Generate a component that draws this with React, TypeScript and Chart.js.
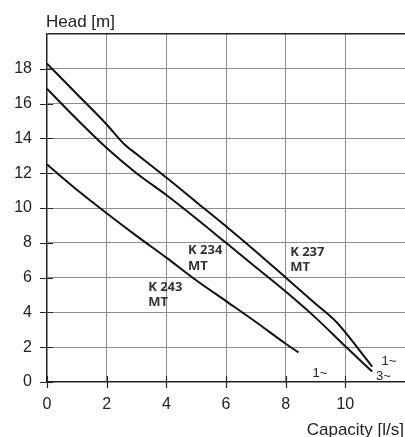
import React, { useEffect, useRef } from 'react';
import { Chart, registerables } from 'chart.js';

Chart.register(...registerables);

// K 237 MT curve
const capacityK237 = [0, 1, 2, 2.6, 3, 4, 5, 6, 7, 8, 9, 9.7, 10, 10.9];
const headK237 = [18.3, 16.55, 14.8, 13.65, 13.1, 11.75, 10.35, 8.95, 7.5, 6.0, 4.5, 3.45, 2.85, 0.88];
// K 234 MT curve
const capacityK234 = [0, 1, 2, 3, 4, 5, 6, 7, 8, 9, 10, 10.9];
const headK234 = [16.85, 15.1, 13.45, 12.0, 10.75, 9.4, 8.0, 6.6, 5.2, 3.7, 2.05, 0.6];
// K 243 MT curve
const capacityK243 = [0, 1, 2, 3, 4, 5, 6, 7, 8, 8.43];
const headK243 = [12.5, 11.05, 9.7, 8.4, 7.15, 5.85, 4.65, 3.45, 2.2, 1.7];

const xTicks = [0, 2, 4, 6, 8, 10];
const yTicks = [0, 2, 4, 6, 8, 10, 12, 14, 16, 18];

const yTitle = 'Head [m]';
const xTitle = 'Capacity [l/s]';

// curve labels: text, anchor capacity, anchor head, bold
const curveLabelText = ['K 243', 'MT', 'K 234', 'MT', 'K 237', 'MT', '1~', '1~', '3~'];
const curveLabelX = [3.39, 3.39, 4.73, 4.73, 8.15, 8.15, 9.15, 11.46, 11.28];
const curveLabelY = [5.46, 4.6, 7.59, 6.67, 7.44, 6.61, 0.52, 1.21, 0.32];
const curveLabelBold = [true, true, true, true, true, true, false, false, false];

const toPoints = (xs: number[], ys: number[]) => xs.map((x, i) => ({ x, y: ys[i] }));

export default function App() {
  const canvasRef = useRef<HTMLCanvasElement | null>(null);

  useEffect(() => {
    document.body.style.margin = '0';
    const canvas = canvasRef.current;
    if (!canvas) return;

    const overlay = {
      id: 'overlay',
      afterDraw(chart: any) {
        const ctx = chart.ctx as CanvasRenderingContext2D;
        const xs = chart.scales.x;
        const ys = chart.scales.y;
        const area = chart.chartArea;
        ctx.save();
        // tick marks straddling axes
        ctx.strokeStyle = '#222';
        ctx.lineWidth = 1.2;
        ctx.beginPath();
        yTicks.forEach((v) => {
          const py = Math.round(ys.getPixelForValue(v)) + 0.5;
          ctx.moveTo(area.left - 7, py);
          ctx.lineTo(area.left + 6, py);
        });
        xTicks.forEach((v) => {
          const px = Math.round(xs.getPixelForValue(v)) + 0.5;
          ctx.moveTo(px, area.bottom - 6);
          ctx.lineTo(px, area.bottom + 6);
        });
        ctx.stroke();

        // titles
        ctx.fillStyle = '#222';
        ctx.font = '17px "Liberation Sans", Arial, sans-serif';
        ctx.textBaseline = 'middle';
        ctx.textAlign = 'left';
        ctx.fillText(yTitle, area.left - 1, 22);
        ctx.textAlign = 'right';
        ctx.fillText(xTitle, chart.width - 1, 430);

        // curve labels
        curveLabelText.forEach((t, i) => {
          const px = xs.getPixelForValue(curveLabelX[i]);
          const py = ys.getPixelForValue(curveLabelY[i]);
          if (curveLabelBold[i]) {
            ctx.font = 'bold 13px "Open Sans", sans-serif';
            ctx.textAlign = 'left';
            ctx.fillStyle = '#333';
          } else {
            ctx.font = '13px "Liberation Sans", Arial, sans-serif';
            ctx.textAlign = 'center';
            ctx.fillStyle = '#222';
          }
          ctx.fillText(t, px, py);
        });
        ctx.restore();
      },
    };

    const lineStyle = {
      borderColor: '#111',
      borderWidth: 2,
      pointRadius: 0,
      showLine: true,
      fill: false,
      cubicInterpolationMode: 'monotone' as const,
    };

    const chart = new Chart(canvas, {
      type: 'scatter',
      data: {
        datasets: [
          { label: 'K 237 MT', data: toPoints(capacityK237, headK237), ...lineStyle },
          { label: 'K 234 MT', data: toPoints(capacityK234, headK234), ...lineStyle },
          { label: 'K 243 MT', data: toPoints(capacityK243, headK243), ...lineStyle },
        ],
      },
      options: {
        animation: false,
        responsive: true,
        maintainAspectRatio: false,
        layout: { padding: { top: 34, right: 0, left: 0, bottom: 0 } },
        plugins: {
          legend: { display: false },
          tooltip: { enabled: false },
          title: { display: false },
        },
        scales: {
          x: {
            type: 'linear',
            min: 0,
            max: 12,
            afterFit: (s: any) => {
              s.height = 55;
              s.paddingLeft = 0;
              s.paddingRight = 0;
            },
            afterBuildTicks: (s: any) => {
              s.ticks = [0, 2, 4, 6, 8, 10, 12].map((v) => ({ value: v }));
            },
            ticks: {
              stepSize: 2,
              color: '#222',
              font: { family: '"Liberation Sans", Arial, sans-serif', size: 16 },
              padding: 7,
              maxRotation: 0,
              callback: (v: any) => (xTicks.includes(Number(v)) ? String(v) : ''),
            },
            grid: {
              color: (c: any) => (c.tick && (c.tick.value === 0 || c.tick.value === 12) ? 'rgba(0,0,0,0)' : '#8c8c8c'),
              lineWidth: 1,
              tickLength: 6,
              tickColor: 'rgba(0,0,0,0)',
            },
            border: { display: true, color: '#222', width: 1.5 },
          },
          y: {
            type: 'linear',
            min: 0,
            max: 20,
            afterFit: (s: any) => {
              s.width = 47;
              s.paddingTop = 0;
              s.paddingBottom = 0;
            },
            afterBuildTicks: (s: any) => {
              s.ticks = [0, 2, 4, 6, 8, 10, 12, 14, 16, 18, 20].map((v) => ({ value: v }));
            },
            ticks: {
              stepSize: 2,
              color: '#222',
              font: { family: '"Liberation Sans", Arial, sans-serif', size: 16 },
              padding: 8,
              callback: (v: any) => (yTicks.includes(Number(v)) ? String(v) : ''),
            },
            grid: {
              color: (c: any) =>
                c.tick && c.tick.value === 20 ? '#222' : c.tick && c.tick.value === 0 ? 'rgba(0,0,0,0)' : '#8c8c8c',
              lineWidth: (c: any) => (c.tick && c.tick.value === 20 ? 1.5 : 1),
              tickLength: 7,
              tickColor: 'rgba(0,0,0,0)',
            },
            border: { display: true, color: '#222', width: 1.5 },
          },
        },
      },
      plugins: [overlay],
    });

    return () => {
      chart.destroy();
    };
  }, []);

  return (
    <div style={{ width: 405, height: 437, position: 'relative' }}>
      <canvas ref={canvasRef} />
    </div>
  );
}
